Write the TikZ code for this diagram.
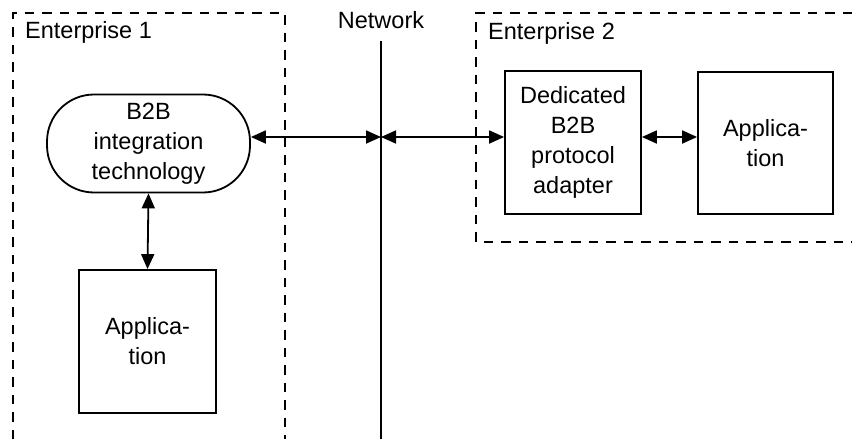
\documentclass[tikz,border=0pt]{standalone}
\usepackage{fontspec}
\setmainfont{Liberation Sans}
\usetikzlibrary{arrows.meta,calc}
\begin{document}
\begin{tikzpicture}[x=1pt,y=1pt,
  txt/.style={font=\fontsize{23.5}{30}\selectfont, inner sep=0pt},
  box/.style={txt, draw, line width=1.8pt, align=center},
  dbox/.style={line width=1.7pt, dash pattern=on 9.5pt off 8pt},
  conn/.style={line width=1.8pt, {Triangle[length=15pt,width=13pt]}-{Triangle[length=15pt,width=13pt]}},
  netline/.style={line width=1.8pt}
]
\useasboundingbox (0,0) rectangle (852,-439);
% enterprise frames
\draw[dbox] (13,-439) -- (13,-13) -- (285,-13) -- (285,-439);
\draw[dbox] (852,-13) -- (476,-13) -- (476,-242) -- (852,-242);
% labels
\node[txt, anchor=base west] (e1) at (25,-38) {Enterprise 1};
\node[txt, anchor=base west] (e2) at (488,-39) {Enterprise 2};
\node[txt, anchor=base] (netlab) at (381,-28) {Network};
% network line
\coordinate (ntop) at (381,-41);
\coordinate (nbot) at (381,-439);
\coordinate (net) at (381,-137);
\draw[netline] (ntop) -- (nbot);
% nodes
\node[box, rounded corners=47pt, minimum width=203pt, minimum height=98pt] (pill) at (148.5,-143.5) {B2B\\integration\\technology};
\node[box, minimum width=137pt, minimum height=143pt] (appL) at (147.5,-341.5) {Applica-\\tion};
\node[box, minimum width=136pt, minimum height=143pt] (ded) at (573,-142.5) {Dedicated\\B2B\\protocol\\adapter};
\node[box, minimum width=135pt, minimum height=142pt] (appR) at (765.5,-143) {Applica-\\tion};
% connectors
\draw[conn] (pill.east |- net) -- (net);
\draw[conn] (net) -- (ded.west |- net);
\draw[conn] (ded.east |- net) -- (appR.west |- net);
\draw[conn] (pill.south) -- (appL.north);
\end{tikzpicture}
\end{document}
